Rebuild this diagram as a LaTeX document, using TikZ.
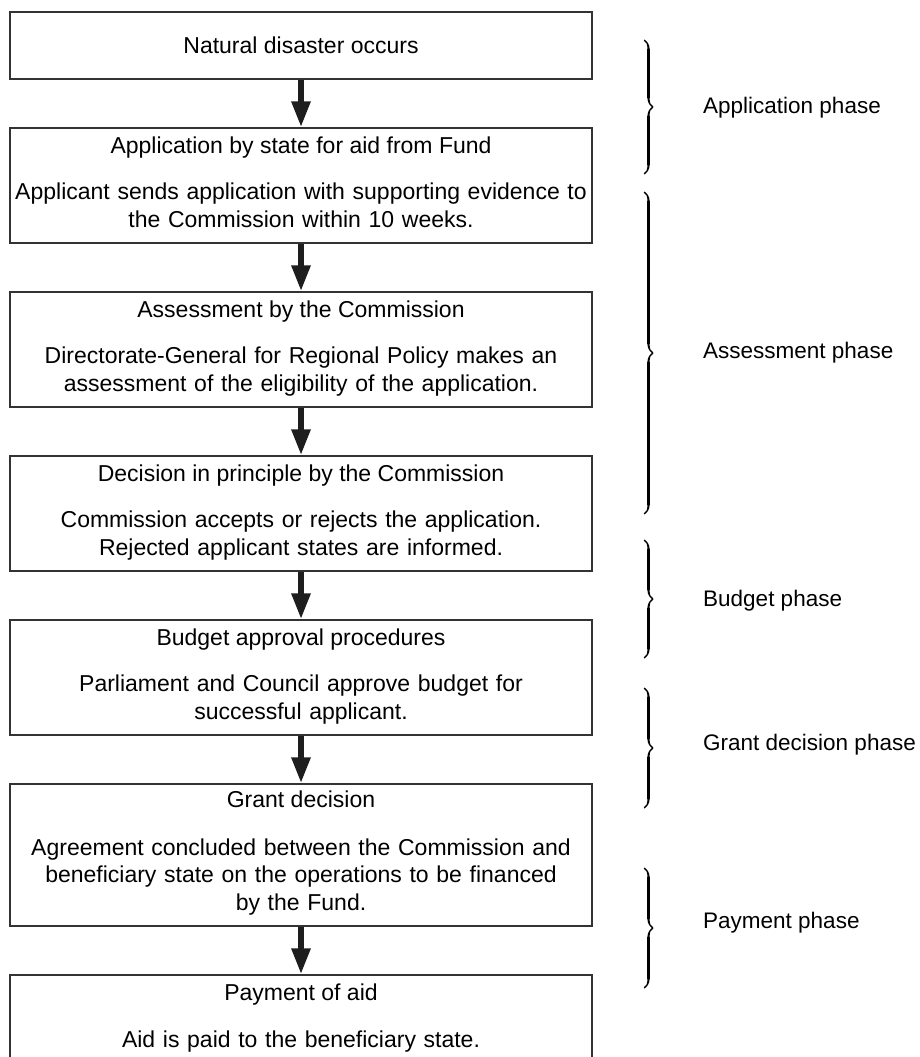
\documentclass[tikz,border=0pt]{standalone}
\usepackage{fontspec}
\setmainfont{Liberation Sans}
\usetikzlibrary{arrows.meta,decorations.pathreplacing,calligraphy}
\definecolor{boxline}{HTML}{333333}
\definecolor{arrowcol}{HTML}{1E1E1E}
\begin{document}
\begin{tikzpicture}[x=1pt,y=-1pt,
  stage/.style={draw=boxline, line width=1.5pt, minimum width=582pt, inner sep=0pt},
  title/.style={anchor=base, font=\fontsize{23pt}{27.5pt}\selectfont},
  body/.style={anchor=base, text width=600pt, align=center, inner sep=0pt, font=\fontsize{23pt}{27.5pt}\selectfont},
  phase/.style={anchor=base west, inner sep=0pt, font=\fontsize{22.5pt}{27pt}\selectfont},
  flow/.style={draw=arrowcol, line width=6pt, -{Triangle[length=26pt,width=18pt]}},
  phasebrace/.style={decorate, decoration={calligraphic brace, amplitude=9pt}, line width=2.2pt, pen colour={black}}
]
\useasboundingbox (0,0) rectangle (919,1057);
\clip (0,0) rectangle (919,1057);

% boxes
\node[stage, minimum height=67pt]  (b1) at (301,45.5) {};
\node[stage, minimum height=115pt] (b2) at (301,185.5) {};
\node[stage, minimum height=115pt] (b3) at (301,349.5) {};
\node[stage, minimum height=115pt] (b4) at (301,513.5) {};
\node[stage, minimum height=115pt] (b5) at (301,677.5) {};
\node[stage, minimum height=142pt] (b6) at (301,855) {};
\node[stage, minimum height=115pt] (b7) at (301,1032.5) {};

% texts
\node[title] (t1) at (301,53.5) {Natural disaster occurs};

\node[title] (t2) at (301,153) {Application by state for aid from Fund};
\node[body]  (d2) at (301,199.5) {Applicant sends application with supporting evidence to\\the Commission within 10 weeks.};

\node[title] (t3) at (301,317) {Assessment by the Commission};
\node[body]  (d3) at (301,363.5) {Directorate-General for Regional Policy makes an\\assessment of the eligibility of the application.};

\node[title] (t4) at (301,481) {Decision in principle by the Commission};
\node[body]  (d4) at (301,527.5) {Commission accepts or rejects the application.\\Rejected applicant states are informed.};

\node[title] (t5) at (301,645) {Budget approval procedures};
\node[body]  (d5) at (301,691.5) {Parliament and Council approve budget for\\successful applicant.};

\node[title] (t6) at (301,807.5) {Grant decision};
\node[body]  (d6) at (301,855) {Agreement concluded between the Commission and\\beneficiary state on the operations to be financed\\by the Fund.};

\node[title] (t7) at (301,1000.5) {Payment of aid};
\node[body]  (d7) at (301,1047) {Aid is paid to the beneficiary state.};

% arrows
\draw[flow] (b1.south) -- (b2.north);
\draw[flow] (b2.south) -- (b3.north);
\draw[flow] (b3.south) -- (b4.north);
\draw[flow] (b4.south) -- (b5.north);
\draw[flow] (b5.south) -- (b6.north);
\draw[flow] (b6.south) -- (b7.north);

% braces
\coordinate (p1s) at (644,40);  \coordinate (p1e) at (644,174);
\coordinate (p2s) at (644,192); \coordinate (p2e) at (644,514);
\coordinate (p3s) at (644,540); \coordinate (p3e) at (644,658);
\coordinate (p4s) at (644,688); \coordinate (p4e) at (644,808);
\coordinate (p5s) at (644,868); \coordinate (p5e) at (644,988);
\draw[phasebrace] (p1s) -- (p1e);
\draw[phasebrace] (p2s) -- (p2e);
\draw[phasebrace] (p3s) -- (p3e);
\draw[phasebrace] (p4s) -- (p4e);
\draw[phasebrace] (p5s) -- (p5e);

% phase labels
\node[phase] (l1) at (703,113) {Application phase};
\node[phase] (l2) at (703,358) {Assessment phase};
\node[phase] (l3) at (703,606) {Budget phase};
\node[phase] (l4) at (703,750) {Grant decision phase};
\node[phase] (l5) at (703,928) {Payment phase};
\end{tikzpicture}
\end{document}
